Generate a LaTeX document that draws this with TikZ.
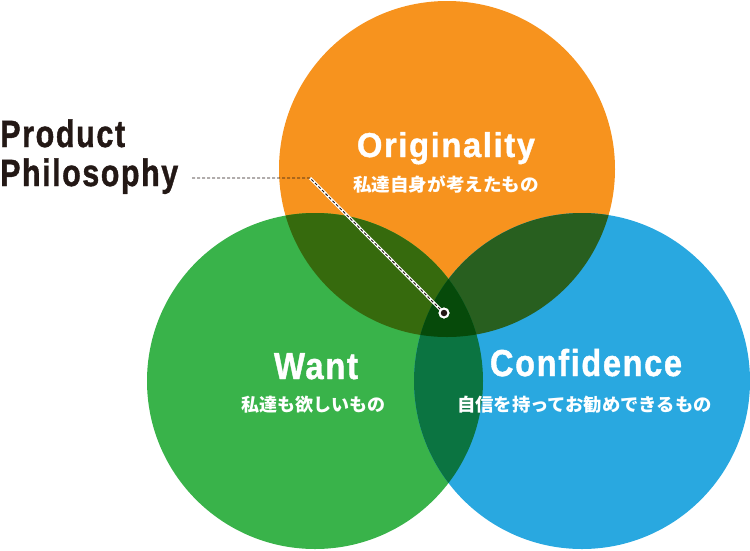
\documentclass[tikz,border=0pt]{standalone}
\usepackage{fontspec}
\setmainfont{Liberation Sans}
\newfontfamily\condf[LetterSpace=5,FakeBold=1.2]{Liberation Sans}
\newfontfamily\cjk{Noto Sans CJK JP}
\usepackage{graphicx}
\definecolor{corange}{HTML}{F7931E}
\definecolor{cgreen}{HTML}{39B34A}
\definecolor{cblue}{HTML}{29A8E0}
\definecolor{cog}{HTML}{366A0D}
\definecolor{cob}{HTML}{285F1F}
\definecolor{cgb}{HTML}{0B7441}
\definecolor{cogb}{HTML}{064A0A}
\definecolor{cdark}{HTML}{231815}
\newsavebox\fitbox
\newcommand\fitw[2]{\sbox\fitbox{#2}\pgfmathsetmacro\fitr{#1/\wd\fitbox}\scalebox{\fitr}[1]{\usebox\fitbox}}
\tikzset{
  title/.style={inner sep=0pt, text=white, font=\condf\bfseries\fontsize{37.5}{37.5}\selectfont},
  sub/.style={inner sep=0pt, text=white, font=\cjk\bfseries\fontsize{18}{18}\selectfont},
  lead/.style={inner sep=0pt, text=cdark, font=\condf\bfseries\fontsize{38}{38}\selectfont},
}
\begin{document}
\begin{tikzpicture}[x=1pt,y=-1pt]
\useasboundingbox (0,0) rectangle (750,550);
\coordinate (O) at (447,169);
\coordinate (G) at (315,381);
\coordinate (B) at (582,381);
\def\R{168pt}
\fill[corange] (O) circle (\R);
\fill[cgreen] (G) circle (\R);
\fill[cblue] (B) circle (\R);
\begin{scope}\clip (O) circle (\R); \fill[cog] (G) circle (\R); \end{scope}
\begin{scope}\clip (O) circle (\R); \fill[cob] (B) circle (\R); \end{scope}
\begin{scope}\clip (G) circle (\R); \fill[cgb] (B) circle (\R); \end{scope}
\begin{scope}\clip (O) circle (\R); \clip (G) circle (\R); \fill[cogb] (B) circle (\R); \end{scope}

\node[lead, anchor=base west] (prod) at (0,147) {\fitw{125}{Product}};
\node[lead, anchor=base west] (phil) at (0,186) {\fitw{178}{Philosophy}};

\node[title, anchor=base, font=\condf\bfseries\fontsize{34.5}{34.5}\selectfont] (orig) at (446,157) {\fitw{178}{Originality}};
\node[sub, anchor=base] (origjp) at (446,191.5) {\fitw{186}{私達自身が考えたもの}};
\node[title, anchor=base] (want) at (316,379) {\fitw{84}{Want}};
\node[sub, anchor=base] (wantjp) at (313,411.5) {\fitw{144}{私達も欲しいもの}};
\node[title, anchor=base] (conf) at (586,376) {\fitw{192}{Confidence}};
\node[sub, anchor=base] (confjp) at (584.5,411.5) {\fitw{255}{自信を持ってお勧めできるもの}};

\coordinate (ls) at (192,178);
\coordinate (lb) at (310,178);
\node[circle, fill=white, minimum size=11pt, inner sep=0pt] (dotw) at (444,313) {};
\draw[white, line width=3pt] (lb) -- (dotw.center);
\draw[cdark, line width=0.9pt, dash pattern=on 3pt off 2pt] (ls) -- (lb) -- (dotw.center);
\node[circle, fill=white, minimum size=11pt, inner sep=0pt] at (dotw) {};
\node[circle, fill=cdark, minimum size=6.5pt, inner sep=0pt] (dot) at (dotw) {};
\end{tikzpicture}
\end{document}
